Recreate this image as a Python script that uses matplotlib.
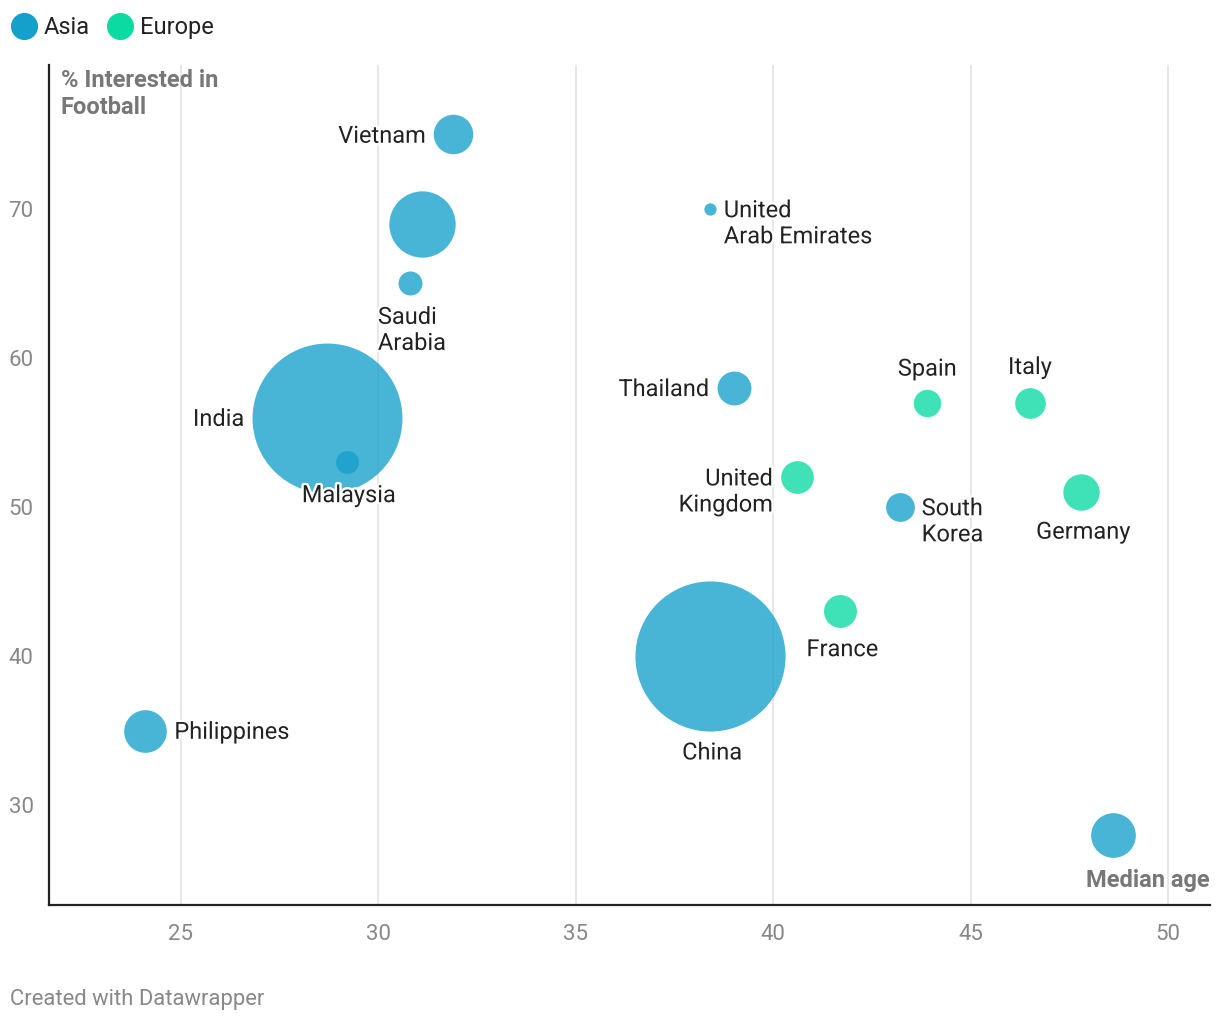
import matplotlib
matplotlib.use("Agg")
import matplotlib.pyplot as plt
import matplotlib.patheffects as pe
from matplotlib.lines import Line2D
import numpy as np

plt.rcParams['font.family'] = ['Roboto', 'DejaVu Sans']

countries = ["Vietnam", "Indonesia", "Saudi Arabia", "India", "Malaysia",
             "United Arab Emirates", "Thailand", "United Kingdom", "Spain", "Italy",
             "Germany", "South Korea", "France", "China", "Philippines", "Japan"]
region = ["Asia", "Asia", "Asia", "Asia", "Asia",
          "Asia", "Asia", "Europe", "Europe", "Europe",
          "Europe", "Asia", "Europe", "Asia", "Asia", "Asia"]
median_age = [31.9, 31.1, 30.8, 28.7, 29.2,
              38.4, 39.0, 40.6, 43.9, 46.5,
              47.8, 43.2, 41.7, 38.4, 24.1, 48.6]
interest = [75, 69, 65, 56, 53,
            70, 58, 52, 57, 57,
            51, 50, 43, 40, 35, 28]
population = [98, 276, 36, 1408, 33,
              9.4, 72, 67, 47, 59,
              83, 52, 68, 1412, 114, 125]
labels = ["Vietnam", "", "Saudi\nArabia", "India", "Malaysia",
          "United\nArab Emirates", "Thailand", "United\nKingdom", "Spain", "Italy",
          "Germany", "South\nKorea", "France", "China", "Philippines", ""]
label_pos = ["left", None, "below", "left", "below",
             "right", "left", "left", "above", "above",
             "below", "right", "below", "below", "right", None]

xticks = [25, 30, 35, 40, 45, 50]
yticks = [30, 40, 50, 60, 70]

colors = {"Asia": "#15a0cc", "Europe": "#09dba3"}

W, H = 1220, 1022
fig = plt.figure(figsize=(W / 100, H / 100), dpi=100)
ax = fig.add_axes([49 / W, 1 - 905 / H, (1210 - 49) / W, (905 - 65) / H])
ax.set_xlim(21.66, 51.06)
ax.set_ylim(23.29, 79.66)

# bubble sizes: area proportional to population
max_r_px = 75
r_px = [max_r_px * np.sqrt(p / 1410) for p in population]
sizes = [(2 * r * 0.72) ** 2 for r in r_px]

order = np.argsort(population)[::-1]
for i in order:
    ax.scatter(median_age[i], interest[i], s=sizes[i], color=colors[region[i]],
               alpha=0.78, linewidths=0, zorder=3)

halo = [pe.withStroke(linewidth=3.5, foreground="white")]
fs = 17
ls = 1.17
half_line = 26 * 0.72 / 2  # half of the line step, in points
pt_per_px = 0.72
common = dict(textcoords="offset points", fontsize=fs, color="#222222",
              linespacing=ls, path_effects=halo, zorder=5)
for i, lab in enumerate(labels):
    if not lab:
        continue
    x, y = median_age[i], interest[i]
    r_pt = r_px[i] * pt_per_px
    pos = label_pos[i]
    dy = (-half_line if "\n" in lab else 0) - 1.3
    if pos == "left":
        ax.annotate(lab, (x, y), xytext=(-r_pt - 5.5, dy), ha="right", va="center",
                    multialignment="right", **common)
    elif pos == "right":
        ax.annotate(lab, (x, y), xytext=(r_pt + 5.5, dy), ha="left", va="center",
                    multialignment="left", **common)
    elif pos == "below":
        ax.annotate(lab, (x, y), xytext=(1.5, -r_pt - 7.5), ha="center", va="top",
                    multialignment="left", **common)
    elif pos == "above":
        ax.annotate(lab, (x, y), xytext=(0, r_pt + 6), ha="center", va="bottom",
                    **common)

ax.set_xticks(xticks)
ax.set_yticks(yticks)
ax.grid(axis="x", color="#e3e3e3", linewidth=1.2, zorder=0)
ax.grid(axis="y", visible=False)
ax.set_axisbelow(True)
ax.tick_params(axis="both", length=0, labelsize=16, labelcolor="#888888")
ax.tick_params(axis="x", pad=13.5)
ax.tick_params(axis="y", pad=11)
for s in ["top", "right"]:
    ax.spines[s].set_visible(False)
for s in ["left", "bottom"]:
    ax.spines[s].set_color("#222222")
    ax.spines[s].set_linewidth(1.6)

ax.text(0.01, 0.995, "% Interested in\nFootball", transform=ax.transAxes,
        ha="left", va="top", fontsize=17, fontweight="bold", color="#777777",
        linespacing=1.22, zorder=6)
ax.text(0.9995, 0.016, "Median age", transform=ax.transAxes,
        ha="right", va="bottom", fontsize=17, fontweight="bold", color="#777777",
        zorder=6)

handles = [Line2D([], [], marker="o", linestyle="", markersize=19.5,
                  markerfacecolor=colors[k], markeredgewidth=0, label=k)
           for k in ["Asia", "Europe"]]
fig.legend(handles=handles, loc="upper left", bbox_to_anchor=(-0.010, 1.005),
           ncol=2, frameon=False, fontsize=17, handletextpad=0.18,
           columnspacing=0.62, handlelength=1.3, labelcolor="#222222")

fig.text(10 / W, 1 - 999 / H, "Created with Datawrapper", ha="left", va="center",
         fontsize=15.8, color="#888888")

fig.savefig("out.png", dpi=100)
